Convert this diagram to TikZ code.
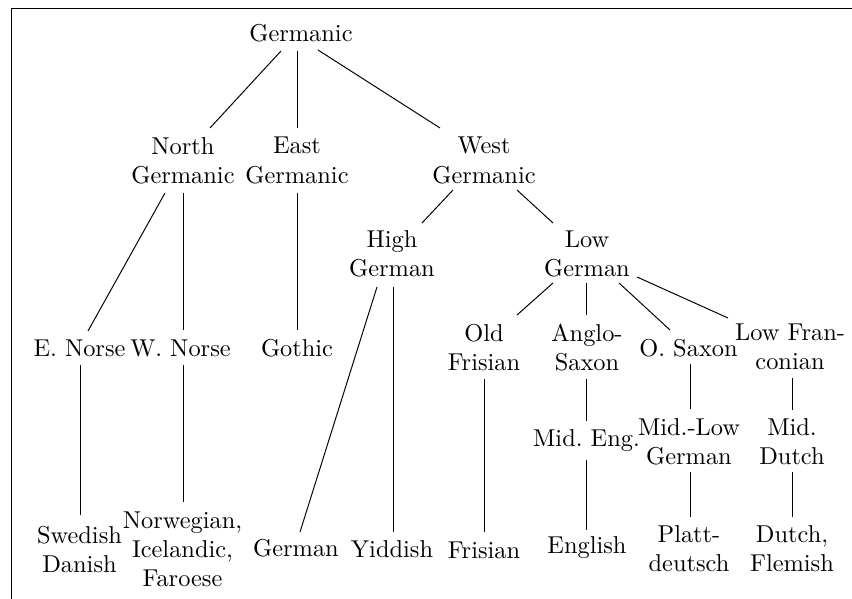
\documentclass[tikz,border=0pt]{standalone}
\usetikzlibrary{calc}
\tikzset{
  lang/.style={align=center, inner sep=0pt, outer sep=0pt},
  branch/.style={line width=0.4pt, black},
  frameline/.style={line width=0.8pt, black}
}
\begin{document}
\begin{tikzpicture}[x=0.41pt, y=-0.41pt]
  \useasboundingbox (0,0) rectangle (852,599);
  % open frame: top and left edges only
  \draw[frameline] (11.5,599) -- (11.5,8.5) -- (852,8.5);

  % root
  \node[lang] (ge) at (301,33.5) {Germanic};
  % branches
  \node[lang] (ng) at (183,160.5) {North\\Germanic};
  \node[lang] (eg) at (297,160.5) {East\\Germanic};
  \node[lang] (wg) at (484,160.5) {West\\Germanic};
  \node[lang] (hg) at (392,254) {High\\German};
  \node[lang] (lg) at (587,254) {Low\\German};
  % middle row
  \node[lang] (en) at (79.5,348) {E. Norse};
  \node[lang] (wn) at (180.5,348) {W. Norse};
  \node[lang] (go) at (297,348) {Gothic};
  \node[lang] (of) at (484,347.5) {Old\\Frisian};
  \node[lang] (as) at (587,347.5) {Anglo-\\Saxon};
  \node[lang] (os) at (688.5,348) {O. Saxon};
  \node[lang] (lf) at (790,347) {Low Fran-\\conian};
  \node[lang] (me) at (586.5,441) {Mid.\ Eng.};
  \node[lang] (ml) at (689,441.5) {Mid.-Low\\German};
  \node[lang] (md) at (792,441.5) {Mid.\\Dutch};
  % modern languages
  \node[lang] (sd) at (79.5,549.5) {Swedish\\Danish};
  \node[lang] (ni) at (182.5,549.5) {Norwegian,\\Icelandic,\\Faroese};
  \node[lang] (de) at (296,548.5) {German};
  \node[lang] (yi) at (392,549) {Yiddish};
  \node[lang] (fr) at (484,550) {Frisian};
  \node[lang] (eng) at (587,548) {English};
  \node[lang] (pd) at (689,549) {Platt-\\deutsch};
  \node[lang] (df) at (792,549) {Dutch,\\Flemish};

  % tree edges
  \draw[branch] ($(ge)+(-20,17.5)$) -- ($(ng)+(27,-32.5)$);
  \draw[branch] ($(ge)+(-4,17.5)$) -- ($(eg)+(0,-32.5)$);
  \draw[branch] ($(ge)+(17,16.5)$) -- ($(wg)+(-44,-32.5)$);
  \draw[branch] ($(ng)+(-18,32.5)$) -- ($(en)+(8.5,-17)$);
  \draw[branch] ($(ng)+(0,32.5)$) -- ($(wn)+(2.5,-18)$);
  \draw[branch] ($(eg)+(0,32.5)$) -- ($(go)+(0,-18)$);
  \draw[branch] ($(wg)+(-31,29.5)$) -- ($(hg)+(30,-31)$);
  \draw[branch] ($(wg)+(33,29.5)$) -- ($(lg)+(-34,-31)$);
  \draw[branch] ($(hg)+(-15,33)$) -- ($(de)+(4,-16.5)$);
  \draw[branch] ($(hg)+(1,33)$) -- ($(yi)+(1,-17)$);
  \draw[branch] ($(lg)+(-34,29)$) -- ($(of)+(33,-32.5)$);
  \draw[branch] ($(lg)+(-1,29)$) -- ($(as)+(-1,-32.5)$);
  \draw[branch] ($(lg)+(32,29)$) -- ($(os)+(-18.5,-18)$);
  \draw[branch] ($(lg)+(50,23)$) -- ($(lf)+(-62,-29)$);
  \draw[branch] ($(en)+(0.5,17)$) -- ($(sd)+(0.5,-34.5)$);
  \draw[branch] ($(wn)+(2.5,17)$) -- ($(ni)+(0.5,-47.5)$);
  \draw[branch] ($(of)+(0,31.5)$) -- ($(fr)+(0,-18)$);
  \draw[branch] ($(as)+(-1,31.5)$) -- ($(me)+(-0.5,-20)$);
  \draw[branch] ($(me)+(-0.5,19)$) -- ($(eng)+(-1,-18)$);
  \draw[branch] ($(os)+(1.5,16)$) -- ($(ml)+(1,-32.5)$);
  \draw[branch] ($(ml)+(1,30.5)$) -- ($(pd)+(1,-32)$);
  \draw[branch] ($(lf)+(2,31)$) -- ($(md)+(0,-31.5)$);
  \draw[branch] ($(md)+(0,30.5)$) -- ($(df)+(0,-32)$);
\end{tikzpicture}
\end{document}
